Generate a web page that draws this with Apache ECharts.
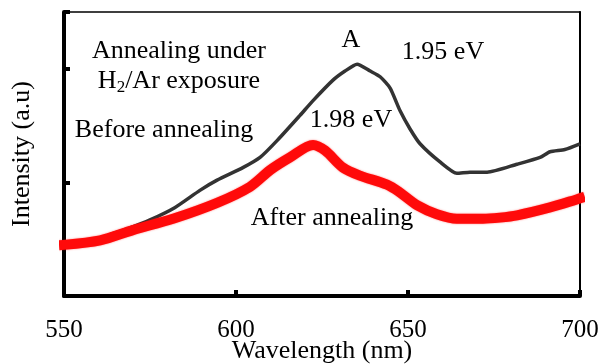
<!DOCTYPE html>
<html>
<head>
<meta charset="utf-8">
<title>PL spectra</title>
<script src="https://cdn.jsdelivr.net/npm/echarts@6/dist/echarts.min.js"></script>
<style>
    html, body { margin: 0; padding: 0; background: #fff; }
    #main { width: 600px; height: 364px; }
</style>
</head>
<body>
<div id="main"></div>
<script type="text/javascript">
    // wavelength (nm) / intensity (a.u.)
    var beforeWl = [550, 560.5, 563.4, 569.2, 575, 582.3, 589.5, 594.5, 602, 607, 612, 618.6, 622.4, 628.2, 631.7, 635.2,
        639, 641.9, 644.8, 647.7, 650.6, 653.5, 659.3, 664.2, 668, 673, 681.7, 688.4, 691.3, 695.6, 700];
    var beforeVal = [0.45, 0.51, 0.54, 0.60, 0.67, 0.78, 0.93, 1.02, 1.13, 1.22, 1.37, 1.59, 1.72, 1.90, 1.98, 2.04,
        1.98, 1.93, 1.83, 1.63, 1.47, 1.34, 1.18, 1.08, 1.09, 1.09, 1.16, 1.22, 1.27, 1.29, 1.34];

    var afterWl = [550, 560.5, 570, 581.7, 594.5, 604, 610, 615.7, 622.4, 625.9, 631.1, 636, 643.9, 647.7, 652.6,
        658.4, 664.2, 671.8, 676.7, 681.7, 691.3, 699, 700];
    var afterVal = [0.45, 0.49, 0.58, 0.68, 0.82, 0.96, 1.11, 1.22, 1.33, 1.28, 1.13, 1.06, 0.98, 0.91, 0.80,
        0.72, 0.68, 0.68, 0.69, 0.71, 0.78, 0.85, 0.86];

    var xTicks = [550, 600, 650, 700];

    function pairs(xs, ys) {
        var out = [];
        for (var i = 0; i < xs.length; i++) out.push([xs[i], ys[i]]);
        return out;
    }

    var serif = "'Liberation Serif', 'Times New Roman', serif";

    var chart = echarts.init(document.getElementById('main'));
    var option = {
        animation: false,
        backgroundColor: '#fff',
        grid: { left: 64, right: 20, top: 12, bottom: 68, show: false, outerBoundsMode: 'none', containLabel: false },
        xAxis: [
            {
                type: 'value', min: 550, max: 700, interval: 50,
                name: 'Wavelength (nm)', nameLocation: 'middle', nameGap: 42, nameMoveOverlap: false,
                nameTextStyle: { fontFamily: serif, fontSize: 26, color: '#000' },
                axisLine: { lineStyle: { color: '#000', width: 4 } },
                axisTick: { inside: true, length: 6, lineStyle: { color: '#000', width: 4 } },
                axisLabel: {
                    margin: 22, fontFamily: serif, fontSize: 25, color: '#000',
                    formatter: function (v) { return xTicks.indexOf(v) >= 0 ? String(v) : ''; }
                },
                splitLine: { show: false }
            },
            {
                type: 'value', position: 'top', min: 550, max: 700,
                axisLine: { onZero: false, lineStyle: { color: '#000', width: 1.5 } },
                axisTick: { show: false }, axisLabel: { show: false }, splitLine: { show: false }
            }
        ],
        yAxis: [
            {
                type: 'value', min: 0, max: 2.5, interval: 1,
                name: 'Intensity (a.u)', nameLocation: 'middle', nameGap: 29, nameMoveOverlap: false,
                nameTextStyle: { fontFamily: serif, fontSize: 26, color: '#000' },
                axisLine: { show: true, lineStyle: { color: '#000', width: 4 } },
                axisTick: { show: true, inside: true, length: 6, lineStyle: { color: '#000', width: 4 } },
                axisLabel: { show: false },
                splitLine: { show: false }
            },
            {
                type: 'value', position: 'right', min: 0, max: 2.5,
                axisLine: { show: true, onZero: false, lineStyle: { color: '#000', width: 2 } },
                axisTick: { show: false }, axisLabel: { show: false }, splitLine: { show: false }
            }
        ],
        series: [
            {
                name: 'Before annealing', type: 'line', data: pairs(beforeWl, beforeVal),
                showSymbol: false, smooth: 0.2, z: 2,
                lineStyle: { color: '#333', width: 3.5 }
            },
            {
                name: 'After annealing', type: 'line', data: pairs(afterWl, afterVal),
                showSymbol: false, smooth: 0.3, z: 3, clip: false,
                lineStyle: { color: '#ff0a0a', width: 10, cap: 'square', shadowColor: 'rgba(255,0,0,0.5)', shadowBlur: 2 }
            }
        ],
        graphic: [
            { type: 'text', x: 179, y: 51, z: 10, style: { text: 'Annealing under', font: '26px ' + serif, fill: '#000', align: 'center', verticalAlign: 'middle' } },
            {
                type: 'text', x: 179, y: 81, z: 10,
                style: {
                    text: '{a|H}{s|2}{a|/Ar exposure}', fill: '#000', align: 'center', verticalAlign: 'middle',
                    rich: {
                        a: { fontFamily: serif, fontSize: 26, lineHeight: 30, fill: '#000' },
                        s: { fontFamily: serif, fontSize: 17, lineHeight: 14, fill: '#000', verticalAlign: 'bottom' }
                    }
                }
            },
            { type: 'text', x: 164, y: 130, z: 10, style: { text: 'Before annealing', font: '26px ' + serif, fill: '#000', align: 'center', verticalAlign: 'middle' } },
            { type: 'text', x: 351, y: 40, z: 10, style: { text: 'A', font: '26px ' + serif, fill: '#000', align: 'center', verticalAlign: 'middle' } },
            { type: 'text', x: 443, y: 52, z: 10, style: { text: '1.95 eV', font: '26px ' + serif, fill: '#000', align: 'center', verticalAlign: 'middle' } },
            { type: 'text', x: 351, y: 120, z: 10, style: { text: '1.98 eV', font: '26px ' + serif, fill: '#000', align: 'center', verticalAlign: 'middle' } },
            { type: 'text', x: 332, y: 218, z: 10, style: { text: 'After annealing', font: '26px ' + serif, fill: '#000', align: 'center', verticalAlign: 'middle' } }
        ]
    };
    chart.setOption(option);
</script>
</body>
</html>
